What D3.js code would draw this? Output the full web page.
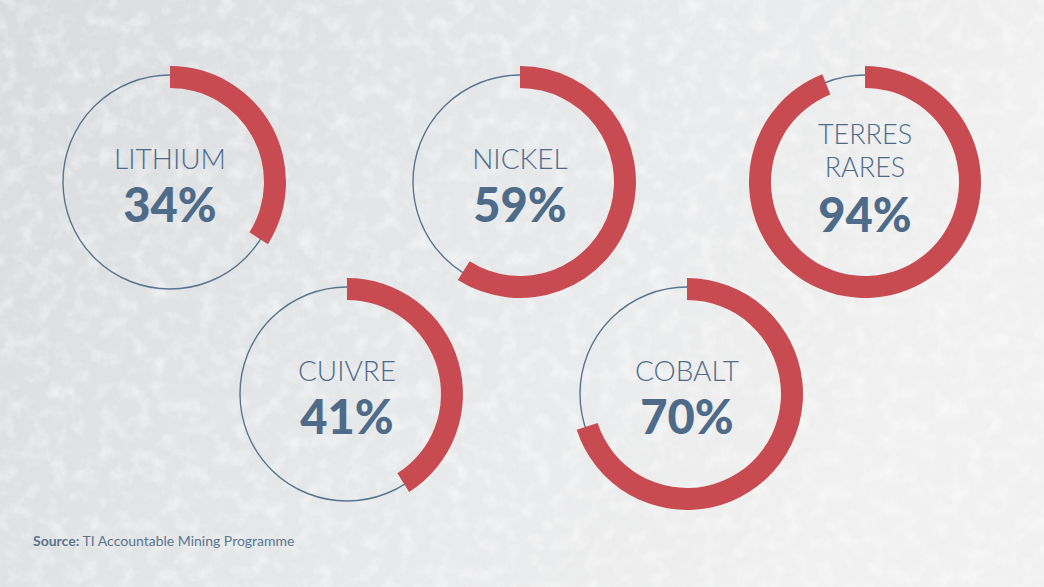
<!DOCTYPE html>
<html><head><meta charset="utf-8">
<script src="https://cdn.jsdelivr.net/npm/d3@7"></script>
<style>html,body{margin:0;padding:0;background:#e9eaec;}svg{display:block;}</style>
</head><body>
<script>
const categories = ["LITHIUM", "NICKEL", "TERRES RARES", "CUIVRE", "COBALT"];
const labelLines = [["LITHIUM"], ["NICKEL"], ["TERRES", "RARES"], ["CUIVRE"], ["COBALT"]];
const values = [34, 59, 94, 41, 70];
const sourceLabel = "Source:";
const sourceText = " TI Accountable Mining Programme";

const W = 1044, H = 587;
const svg = d3.select("body").append("svg").attr("width", W).attr("height", H);
const defs = svg.append("defs");
const grad = defs.append("linearGradient").attr("id", "bg").attr("x1", 0).attr("y1", 0).attr("x2", 1).attr("y2", 0.3);
grad.append("stop").attr("offset", 0).attr("stop-color", "#dadbde");
grad.append("stop").attr("offset", 0.5).attr("stop-color", "#e6e7e9");
grad.append("stop").attr("offset", 1).attr("stop-color", "#f1f1f1");
const f = defs.append("filter").attr("id", "noise").attr("x", 0).attr("y", 0).attr("width", "100%").attr("height", "100%");
f.append("feTurbulence").attr("type", "fractalNoise").attr("baseFrequency", 0.06).attr("numOctaves", 4).attr("seed", 7).attr("result", "t");
f.append("feColorMatrix").attr("type", "matrix").attr("values", "0 0 0 0 1  0 0 0 0 1  0 0 0 0 1  0 0 0 1.8 -0.8");
svg.append("rect").attr("width", W).attr("height", H).attr("fill", "url(#bg)");
svg.append("rect").attr("width", W).attr("height", H).attr("filter", "url(#noise)").attr("opacity", 0.6);

const centers = [[170, 182], [520, 182], [865, 182], [347, 394], [687, 394]];
const pct = d3.scaleLinear().domain([0, 100]).range([0, 2 * Math.PI]);
const rThin = 107, rIn = 94, rOut = 116;
const arc = d3.arc().innerRadius(rIn).outerRadius(rOut).startAngle(0);

const g = svg.selectAll("g.donut").data(categories).join("g").attr("class", "donut")
  .attr("transform", (d, i) => `translate(${centers[i][0]},${centers[i][1]})`);
g.append("circle").attr("r", rThin).attr("fill", "none").attr("stroke", "#587590").attr("stroke-width", 1.4);
g.append("path").attr("d", (d, i) => arc({endAngle: pct(values[i])})).attr("fill", "#c84b51");

const FONT = "Lato, 'Open Sans', sans-serif";
g.each(function(d, i) {
  const sel = d3.select(this);
  const lines = labelLines[i];
  const n = lines.length;
  const pctBase = n === 1 ? 40 : 50;
  const fs = n === 1 ? 28 : 27;
  lines.forEach((ln, k) => {
    const base = n === 1 ? -13 : (-38 + k * 33);
    sel.append("text").attr("x", 0).attr("y", base).attr("text-anchor", "middle")
      .attr("font-family", FONT).attr("font-size", fs).attr("font-weight", 300)
      .attr("fill", "#4e6c8a").text(ln);
  });
  sel.append("text").attr("x", 0).attr("y", pctBase).attr("text-anchor", "middle")
    .attr("font-family", FONT).attr("font-size", 47).attr("font-weight", 900)
    .attr("fill", "#4e6c8a").text(values[i] + "%");
});

const st = svg.append("text").attr("x", 33).attr("y", 546)
  .attr("font-family", FONT).attr("font-size", 14).attr("fill", "#5a7590");
st.append("tspan").attr("font-weight", 700).text(sourceLabel);
st.append("tspan").text(sourceText);
</script>
</body></html>
